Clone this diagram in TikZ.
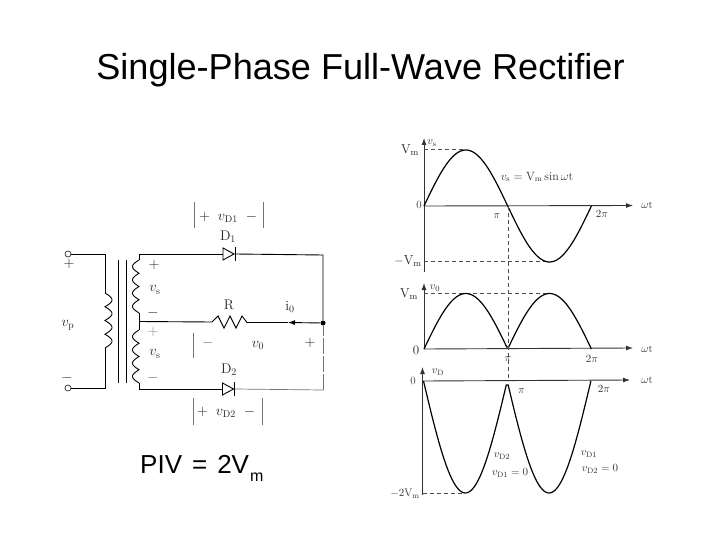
\documentclass[tikz,border=0pt]{standalone}
\usepackage{amsmath}
\usepackage{fontspec}
\usetikzlibrary{arrows.meta}
\newfontfamily\slideFont{Liberation Sans}
\tikzstyle{slide} = [x = 1pt, y = -1pt, >={Latex[length=7pt,width=5pt]}]
\tikzstyle{wireLine} = [color=black, line width=.9pt]
\tikzstyle{faintLine} = [color=black!55, line width=.7pt]
\tikzstyle{waveLine} = [color=black, line width=1.2pt]
\tikzstyle{axisLine} = [color=black!80, line width=.9pt]
\tikzstyle{guideLine} = [color=black!70, line width=.6pt, dash pattern=on 4pt off 3pt]
\tikzstyle{titleText} = [font=\slideFont\fontsize{36.1}{40}\selectfont, inner sep=0pt, anchor=base]
\tikzstyle{pivText} = [font=\slideFont\fontsize{26}{30}\selectfont, inner sep=0pt, anchor=base west]
\tikzstyle{circuitText} = [font=\fontsize{14}{16}\selectfont, text=black!85, inner sep=0pt]
\tikzstyle{plotText} = [font=\fontsize{11}{13}\selectfont, text=black!80, inner sep=0pt]
\tikzstyle{plotTextLarge} = [font=\fontsize{13}{15}\selectfont, text=black!85, inner sep=0pt]
\tikzstyle{terminalStyle} = [circle, draw=black!80, fill=white, line width=.7pt, minimum size=6pt, inner sep=0pt]
\tikzstyle{dotStyle} = [circle, fill=black, minimum size=5pt, inner sep=0pt]
\newcommand{\coilUnit}[4]{\draw [wireLine] plot [domain=0:4, samples=81] ({#1 + #3 * abs(sin(180 * \x))}, {#2 + #4 * \x});}
\newcommand{\diodeRight}[2]{\draw [wireLine] (#1, #2 - 6) -- (#1 + 11, #2) -- (#1, #2 + 6) -- cycle; \draw [wireLine] (#1 + 12, #2 - 7) -- (#1 + 12, #2 + 7);}
\newcommand{\sineWave}[6]{\draw [waveLine] plot [domain=#3:#4, samples=90] ({#1 + \x / 180 * 83.7}, {#2 + #5 * #6(sin(\x))});}
\begin{document}
\begin{tikzpicture}[slide]
\useasboundingbox (0,0) rectangle (720,540);
\fill [white] (0,0) rectangle (720,540);
\node [titleText] (title) at (360.5,80) {Single-Phase Full-Wave Rectifier};
\node [pivText] (piv) at (140,473) {PIV\hspace{10pt}=\hspace{10pt}2V\hspace{1pt}\raisebox{-8pt}{\fontsize{16}{18}\selectfont m}};
% transformer
\node [terminalStyle] (termTop) at (68,254) {};
\node [terminalStyle] (termBottom) at (68,388) {};
\coordinate (priTop) at (105,254);
\coordinate (priCoilTop) at (105,293);
\coordinate (priCoilBottom) at (105,348);
\coordinate (priBottom) at (105,388);
\draw [wireLine] (termTop) -- (priTop) -- (priCoilTop);
\draw [wireLine] (priCoilBottom) -- (priBottom) -- (termBottom);
\coilUnit{105}{293}{7}{13.75}
\coordinate (coreATop) at (118,260);
\coordinate (coreABottom) at (118,383);
\coordinate (coreBTop) at (126,260);
\coordinate (coreBBottom) at (126,383);
\draw [wireLine] (coreATop) -- (coreABottom);
\draw [wireLine] (coreBTop) -- (coreBBottom);
\coilUnit{139}{260}{-6.5}{13.25}
\coilUnit{139}{330}{-6.5}{13.25}
% rectifier loop
\coordinate (secTop) at (139,254);
\coordinate (secTopCoil) at (139,260);
\coordinate (tapUpper) at (139,313);
\coordinate (tap) at (139,321.5);
\coordinate (tapLower) at (139,330);
\coordinate (secBottomCoil) at (139,383);
\coordinate (secBottom) at (139,389);
\coordinate (diodeOneIn) at (223,254);
\coordinate (diodeOneOut) at (235,254);
\coordinate (diodeTwoIn) at (222.5,389);
\coordinate (diodeTwoOut) at (234.5,389);
\coordinate (cornerTop) at (323,255);
\coordinate (cornerBottom) at (323,390);
\coordinate (resLeft) at (212,322);
\coordinate (resRight) at (247,322.5);
\node [dotStyle] (junction) at (323,323) {};
\coordinate (currentTip) at (288,322.5);
\draw [wireLine] (secTopCoil) -- (secTop) -- (diodeOneIn);
\diodeRight{223}{254}
\draw [wireLine] (diodeOneOut) -- (cornerTop) -- (junction);
\draw [wireLine] (tapUpper) -- (tapLower);
\draw [wireLine] (tap) -- (resLeft) -- ++(6,-6) -- ++(6,12) -- ++(6,-12) -- ++(6,12) -- ++(6,-12) -- (resRight);
\draw [wireLine] (resRight) -- (currentTip);
\draw [wireLine, ->] (junction) -- (currentTip);
\draw [wireLine] (secBottomCoil) -- (secBottom) -- (diodeTwoIn);
\diodeRight{222.5}{389}
\draw [faintLine] (diodeTwoOut) -- (cornerBottom);
\draw [faintLine, dash pattern=on 16pt off 2pt] (cornerBottom) -- (junction);
% circuit labels
\node [circuitText] (plusTop) at (69,264) {$+$};
\node [circuitText] (minusBottom) at (67,378) {$-$};
\node [circuitText] (vp) at (68,325) {$v_{\mathrm{p}}$};
\node [circuitText] (plusSecA) at (154,265) {$+$};
\node [circuitText] (vsA) at (155,290) {$v_{\mathrm{s}}$};
\node [circuitText] (minusSecA) at (153,313) {$-$};
\node [circuitText, text=black!45] (plusSecB) at (153,332) {$+$};
\node [circuitText] (vsB) at (155,354) {$v_{\mathrm{s}}$};
\node [circuitText, text=black!60] (minusSecB) at (153,378) {$-$};
\node [circuitText] (diodeOneName) at (228,237) {$\mathrm{D}_1$};
\node [circuitText] (diodeTwoName) at (229,370) {$\mathrm{D}_2$};
\node [circuitText] (resName) at (229,305) {R};
\node [circuitText] (currentName) at (290,307) {$\mathrm{i}_0$};
\node [circuitText] (voutName) at (258,345) {$v_0$};
\node [circuitText] (voutPlus) at (310,343) {$+$};
\node [circuitText, text=black!60] (voutMinus) at (208,343) {$-$};
\node [circuitText] (vdOne) at (228,217) {$+\;\; v_{\mathrm{D}1}\;\; -$};
\node [circuitText] (vdTwo) at (226,412) {$+\;\; v_{\mathrm{D}2}\;\; -$};
\foreach \barX/\barTop/\barBottom in {194/202/228, 263/202/228, 193/398/425, 262/398/425, 193/333/358} {
  \draw [faintLine] (\barX,\barTop) -- (\barX,\barBottom);
}
% first plot
\coordinate (originA) at (424,206);
\coordinate (xEndA) at (633,205.5);
\coordinate (yTopA) at (424,138);
\coordinate (yBottomA) at (424,272);
\coordinate (peakA) at (466,149.5);
\coordinate (troughA) at (550,261);
\coordinate (yPeakA) at (424,149.5);
\coordinate (yTroughA) at (424,261);
\draw [axisLine, ->] (originA) -- (xEndA);
\draw [axisLine, ->] (yBottomA) -- (yTopA);
\draw [guideLine] (yPeakA) -- (peakA);
\draw [guideLine] (yTroughA) -- (troughA);
\sineWave{424}{206}{0}{360}{-56}{}
% second plot
\coordinate (originB) at (424,349);
\coordinate (xEndB) at (633,348);
\coordinate (yTopB) at (424,283);
\coordinate (peakB) at (549,293.5);
\coordinate (yPeakB) at (424,293.5);
\draw [axisLine, ->] (originB) -- (xEndB);
\draw [axisLine, ->] (originB) -- (yTopB);
\draw [guideLine] (yPeakB) -- (peakB);
\sineWave{424}{349}{0}{360}{-55.5}{abs}
% third plot
\coordinate (originC) at (422.5,381);
\coordinate (xEndC) at (630,380);
\coordinate (yTopC) at (422.5,367);
\coordinate (yBottomC) at (422.5,495);
\coordinate (yTroughC) at (422.5,493);
\coordinate (troughC) at (464,493);
\draw [axisLine, ->] (originC) -- (xEndC);
\draw [axisLine, ->] (yBottomC) -- (yTopC);
\draw [guideLine] (yTroughC) -- (troughC);
\sineWave{423.5}{381}{0}{360}{112}{abs}
% common guide through pi
\coordinate (guideTop) at (508,206);
\coordinate (guideBottom) at (508,381);
\draw [guideLine] (guideTop) -- (guideBottom);
% plot labels
\node [plotText] (vsAxis) at (432,143) {$v_{\mathrm{s}}$};
\node [plotTextLarge] (vmA) at (410,150) {$\mathrm{V_m}$};
\node [plotText, font=\fontsize{12}{14}\selectfont] (vsEq) at (537,177) {$v_{\mathrm{s}} = \mathrm{V_m}\sin\omega\mathrm{t}$};
\node [plotText] (zeroA) at (419,205) {0};
\node [plotText] (piA) at (497,216) {$\pi$};
\node [plotText] (twoPiA) at (602,214) {$2\pi$};
\node [plotTextLarge] (vmNegA) at (408,261) {$-\mathrm{V_m}$};
\node [plotText] (wtA) at (647,205) {$\omega\mathrm{t}$};
\node [plotText] (voAxis) at (435,288) {$v_0$};
\node [plotTextLarge] (vmB) at (409,294) {$\mathrm{V_m}$};
\node [plotTextLarge] (zeroB) at (416,350) {0};
\node [plotText] (piB) at (508,359) {$\pi$};
\node [plotText] (twoPiB) at (592,359) {$2\pi$};
\node [plotText] (wtB) at (647,349) {$\omega\mathrm{t}$};
\node [plotText] (vdAxis) at (438,372) {$v_{\mathrm{D}}$};
\node [plotText] (zeroC) at (413,381) {0};
\node [plotText] (wtC) at (647,380) {$\omega\mathrm{t}$};
\node [plotText] (piC) at (521.5,391) {$\pi$};
\node [plotText] (twoPiC) at (604,389) {$2\pi$};
\node [plotText] (vdTwoTop) at (502,456) {$v_{\mathrm{D}2}$};
\node [plotText] (vdOneZero) at (510,473) {$v_{\mathrm{D}1} = 0$};
\node [plotText] (vdOneTop) at (589,454) {$v_{\mathrm{D}1}$};
\node [plotText] (vdTwoZero) at (600,469) {$v_{\mathrm{D}2} = 0$};
\node [plotText] (twoVm) at (405,494) {$-2\mathrm{V_m}$};
\end{tikzpicture}
\end{document}
